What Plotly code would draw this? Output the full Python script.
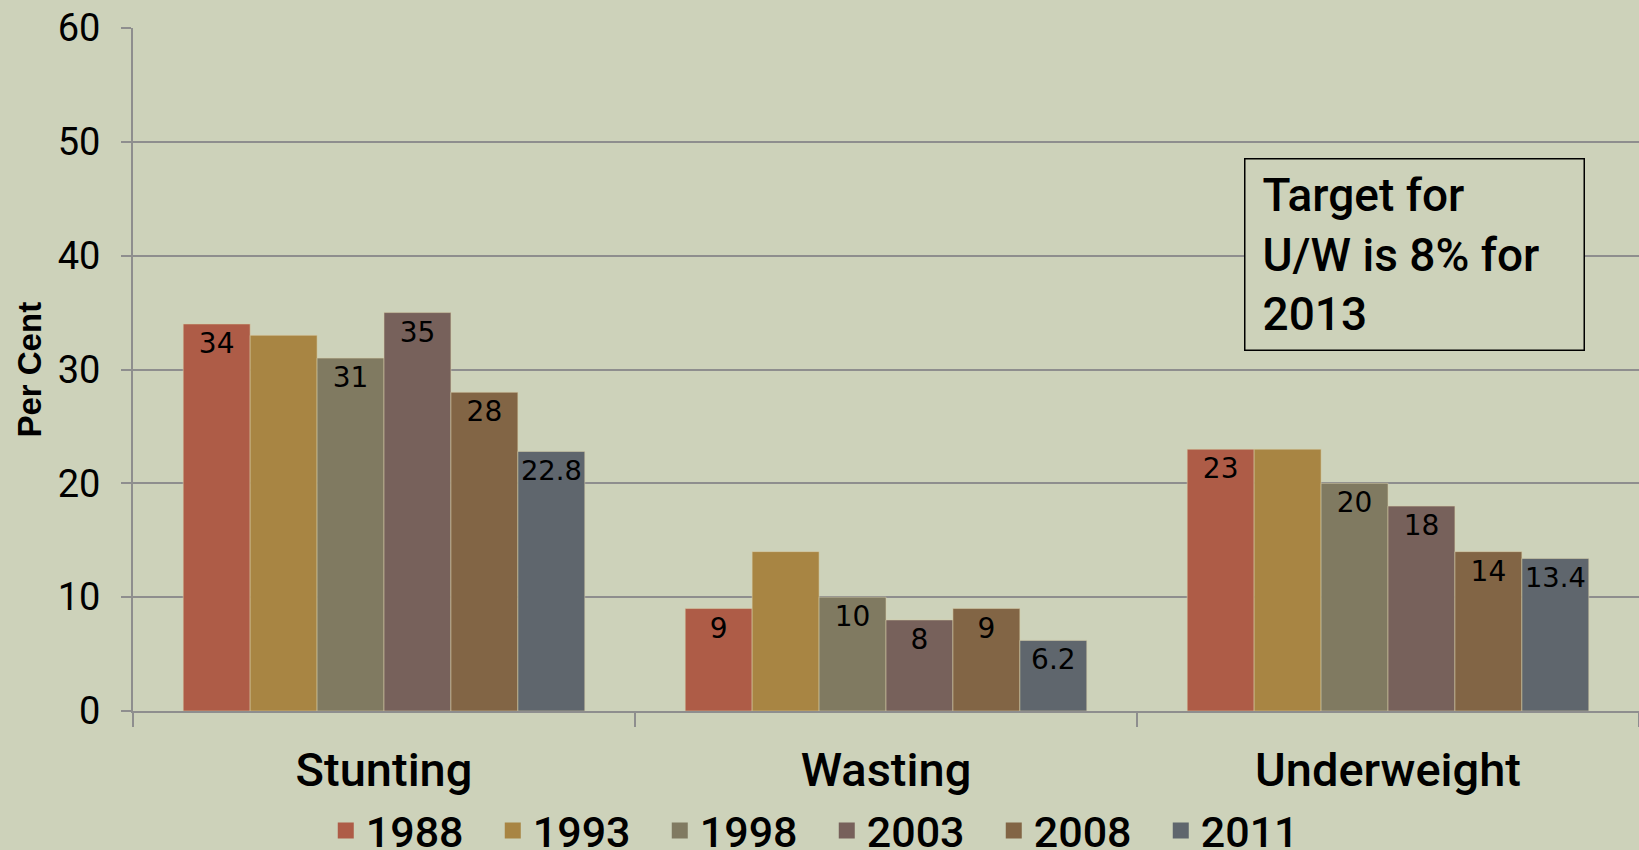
import plotly.graph_objects as go

categories = ["Stunting", "Wasting", "Underweight"]
years = ["1988", "1993", "1998", "2003", "2008", "2011"]
values = {
    "1988": [34, 9, 23],
    "1993": [33, 14, 23],
    "1998": [31, 10, 20],
    "2003": [35, 8, 18],
    "2008": [28, 9, 14],
    "2011": [22.8, 6.2, 13.4],
}
show_labels = {"1988": True, "1993": False, "1998": True, "2003": True, "2008": True, "2011": True}
colors = {
    "1988": "#AE5C47",
    "1993": "#A88543",
    "1998": "#807A61",
    "2003": "#77615B",
    "2008": "#826545",
    "2011": "#5F666D",
}
y_ticks = [0, 10, 20, 30, 40, 50, 60]
note_text = "Target for<br>U/W is 8% for<br>2013"
y_title = "Per Cent"

BG = "#CDD2BA"
GRID = "#8E8E8E"

fig = go.Figure()
for yr in years:
    vals = values[yr]
    fig.add_trace(go.Bar(
        name=yr,
        x=categories,
        y=vals,
        marker=dict(color=colors[yr], line=dict(color="rgba(215,205,170,0.55)", width=1)),
        text=[str(v) for v in vals] if show_labels[yr] else None,
        textposition="inside" if show_labels[yr] else "none",
        insidetextanchor="end",
        textangle=0,
        textfont=dict(family="DejaVu Sans", size=28, color="black"),
        hoverinfo="skip",
        showlegend=False,
        legendgroup=yr,
    ))

# legend entries (square swatches)
for yr in years:
    fig.add_trace(go.Scatter(
        name=yr,
        x=[None],
        y=[None],
        mode="markers",
        marker=dict(symbol="square", size=16, color=colors[yr]),
        showlegend=True,
        legendgroup=yr,
        hoverinfo="skip",
    ))

fig.update_layout(
    width=1639,
    height=850,
    barmode="group",
    bargap=0.2,
    bargroupgap=0,
    paper_bgcolor=BG,
    plot_bgcolor=BG,
    margin=dict(l=133, r=0, t=28, b=139, autoexpand=False),
    font=dict(family="Roboto", color="black"),
    showlegend=True,
    legend=dict(
        orientation="h",
        x=0.128,
        xanchor="left",
        yref="container",
        y=0.023,
        yanchor="middle",
        entrywidth=122,
        entrywidthmode="pixels",
        itemwidth=30,
        itemsizing="trace",
        font=dict(family="Roboto", size=43, color="black", weight=500),
        bgcolor="rgba(0,0,0,0)",
        traceorder="normal",
    ),
    xaxis=dict(
        type="category",
        showgrid=False,
        showline=True,
        linecolor=GRID,
        linewidth=2,
        ticks="outside",
        tickson="boundaries",
        ticklen=14,
        tickwidth=2,
        tickcolor=GRID,
        tickfont=dict(family="Roboto", size=47, color="black", weight=500),
        ticklabelstandoff=17,
        automargin=False,
    ),
    yaxis=dict(
        range=[0, 60],
        tickvals=y_ticks,
        ticktext=[str(t) for t in y_ticks],
        showgrid=True,
        gridcolor=GRID,
        gridwidth=2,
        showline=True,
        linecolor=GRID,
        linewidth=2,
        ticks="outside",
        ticklen=10,
        tickwidth=2,
        tickcolor=GRID,
        tickfont=dict(family="Roboto", size=38, color="black"),
        ticklabelstandoff=13,
        zeroline=False,
        automargin=False,
    ),
    annotations=[
        dict(
            text=y_title,
            xref="paper", yref="paper",
            x=-0.069, y=0.5,
            xanchor="center", yanchor="middle",
            textangle=-90,
            showarrow=False,
            font=dict(family="Liberation Sans", size=33, color="black", weight="bold"),
        ),
        dict(
            text=note_text,
            xref="paper", yref="paper",
            x=0.7377, y=0.8097,
            xanchor="left", yanchor="top",
            align="left",
            valign="middle",
            width=304,
            height=156,
            borderpad=17,
            bordercolor="black",
            borderwidth=1.5,
            bgcolor=BG,
            showarrow=False,
            font=dict(family="Roboto", size=46, color="black", weight=500),
        ),
    ],
)

fig.write_html(
    "out.html",
    config={"displayModeBar": False},
    post_script="document.body.style.margin='0';document.body.style.overflow='hidden';",
)
